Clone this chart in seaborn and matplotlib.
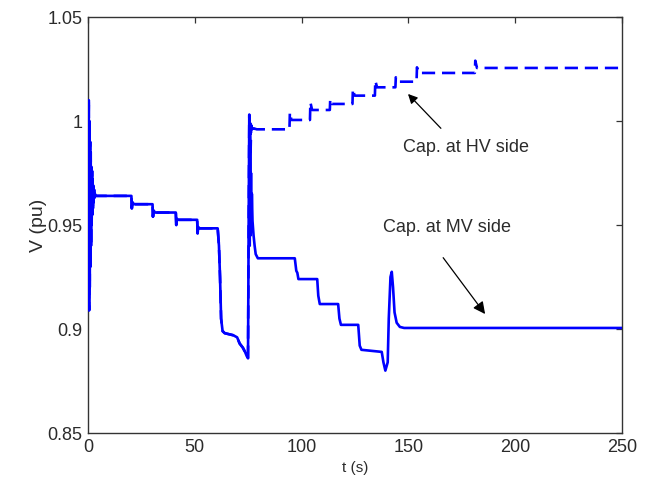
import matplotlib
matplotlib.use("Agg")
import matplotlib.pyplot as plt
import seaborn as sns

# ---- data ----
# common part (both cases identical before capacitor switching at ~75 s)
t_common = [0.0, 0.35, 0.5, 0.65, 0.8, 0.95, 1.1, 1.25, 1.4, 1.55, 1.7, 1.85, 2.0, 2.15,
            2.3, 2.45, 2.6, 2.8, 3.0, 3.2, 3.5,
            20.3, 20.5, 20.8, 21.5,
            30.2, 30.4, 30.7, 31.4,
            41.1, 41.3, 41.6, 42.3,
            51.1, 51.3, 51.6, 52.3,
            60.7, 61.3, 61.8, 62.3, 63.0, 64.0, 68.0, 69.8, 71.0, 72.5, 73.5, 74.3, 74.9]
v_common = [0.964, 1.010, 0.909, 1.000, 0.920, 0.990, 0.930, 0.985, 0.940, 0.978, 0.950, 0.976, 0.955, 0.972,
            0.958, 0.969, 0.961, 0.967, 0.963, 0.965, 0.964,
            0.964, 0.958, 0.961, 0.960,
            0.960, 0.954, 0.957, 0.956,
            0.956, 0.950, 0.953, 0.9525,
            0.9525, 0.946, 0.949, 0.9484,
            0.9484, 0.940, 0.925, 0.905, 0.899, 0.898, 0.897, 0.896, 0.893, 0.891, 0.889, 0.887, 0.886]

# Cap. at MV side (solid)
t_mv_after = [75.2, 75.5, 75.7, 75.9, 76.1, 76.3, 76.5, 76.7, 77.0, 77.5, 78.0, 78.5, 79.5,
              96.8, 97.5, 98.0, 98.5, 107.3, 107.8, 108.5, 117.1, 117.7, 118.4,
              126.5, 127.2, 128.0, 137.5, 138.3, 139.2, 140.3, 140.8, 141.6, 142.2,
              142.8, 143.5, 144.5, 146.0, 148.0, 250.0]
v_mv_after = [0.950, 1.003, 0.940, 0.990, 0.945, 0.975, 0.948, 0.965, 0.952, 0.945, 0.940, 0.936, 0.934,
              0.934, 0.928, 0.927, 0.924, 0.924, 0.916, 0.912, 0.912, 0.905, 0.902,
              0.902, 0.892, 0.890, 0.889, 0.884, 0.880, 0.884, 0.905, 0.925, 0.9275,
              0.920, 0.908, 0.903, 0.901, 0.9005, 0.9005]

# Cap. at HV side (dashed)
t_hv_after = [75.2, 75.5, 75.7, 75.9, 76.1, 76.4, 76.8, 77.5, 79.0,
              94.3, 94.5, 95.2, 103.9, 104.1, 104.9, 113.2, 113.4, 114.2,
              123.8, 124.0, 124.8, 134.3, 134.5, 135.3, 143.9, 144.1, 144.9,
              153.8, 154.0, 154.8, 181.1, 181.3, 182.1, 250.0]
v_hv_after = [0.950, 1.003, 0.970, 0.999, 0.985, 0.998, 0.994, 0.9965, 0.996,
              0.996, 1.0042, 1.0005, 1.0005, 1.009, 1.0053, 1.0053, 1.0106, 1.0082,
              1.0082, 1.0154, 1.0122, 1.0122, 1.0194, 1.0162, 1.0162, 1.021, 1.0189,
              1.0189, 1.0258, 1.0231, 1.0231, 1.029, 1.0255, 1.0255]

t_mv = t_common + t_mv_after
v_mv = v_common + v_mv_after
t_hv = t_common + t_hv_after
v_hv = v_common + v_hv_after

x_ticks = [0, 50, 100, 150, 200, 250]
y_ticks = [0.85, 0.9, 0.95, 1.0, 1.05]
y_tick_labels = ["0.85", "0.9", "0.95", "1", "1.05"]
label_hv = "Cap. at HV side"
label_mv = "Cap. at MV side"

# ---- plot ----
sns.set_theme(style="white")
plt.rcParams["font.family"] = ["Liberation Sans", "DejaVu Sans"]

fig = plt.figure(figsize=(6.54, 4.83), dpi=100)
ax = fig.add_axes([0.1346, 0.1035, 0.8165, 0.8613])

sns.lineplot(x=t_hv, y=v_hv, sort=False, estimator=None, color="#0000ff",
             linewidth=1.9, linestyle=(0, (5, 2.6)), ax=ax, zorder=3)
sns.lineplot(x=t_mv, y=v_mv, sort=False, estimator=None, color="#0000ff",
             linewidth=1.9, ax=ax, zorder=3)

ax.set_xlim(0, 250)
ax.set_ylim(0.85, 1.05)
ax.set_xticks(x_ticks)
ax.set_xticklabels([str(v) for v in x_ticks])
ax.set_yticks(y_ticks)
ax.set_yticklabels(y_tick_labels)

txt_col = "#2b2b2b"
ax.tick_params(direction="in", length=4, width=0.9, color="#333333",
               top=True, right=True, labelsize=13, labelcolor=txt_col, pad=4)
for s in ax.spines.values():
    s.set_color("#333333")
    s.set_linewidth(1.0)

ax.set_xlabel("t (s)", fontsize=11, color=txt_col, labelpad=4)
ax.set_ylabel("V (pu)", fontsize=14, color=txt_col, labelpad=0)

ax.annotate(label_hv, xy=(149.8, 1.013), xytext=(147.5, 0.9875),
            fontsize=13, color=txt_col, va="center", ha="left",
            arrowprops=dict(arrowstyle="-|>", color="black", lw=0.9,
                            mutation_scale=14, shrinkA=0, shrinkB=0,
                            patchA=None, relpos=(0.3, 1.6)))
ax.annotate(label_mv, xy=(185.9, 0.9072), xytext=(138.1, 0.949),
            fontsize=13, color=txt_col, va="center", ha="left",
            arrowprops=dict(arrowstyle="-|>", color="black", lw=0.9,
                            mutation_scale=18, shrinkA=0, shrinkB=0,
                            patchA=None, relpos=(0.47, -1.3)))

fig.savefig("out.png", dpi=100)
